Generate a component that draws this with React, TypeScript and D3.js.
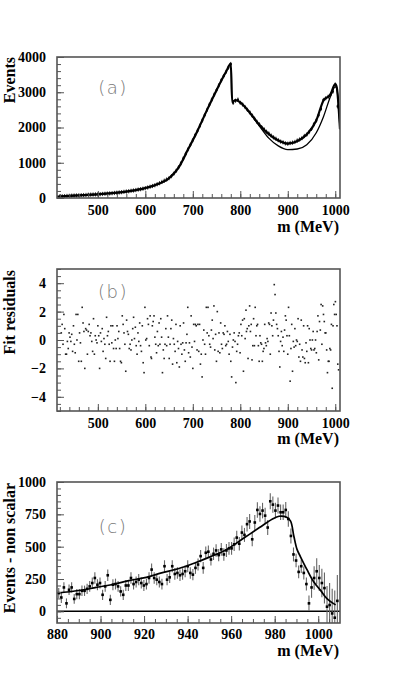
import React, { useEffect, useRef } from 'react';
import * as d3 from 'd3';

// ---- panel (a): pi pi mass spectrum ----
const massStartA = 420;
const massStepA = 5;
const eventsA = [
  45, 48, 52, 58, 60, 66, 70, 72, 76, 80,
  83, 86, 92, 95, 98, 102, 106, 110, 114, 120,
  125, 131, 137, 143, 150, 158, 166, 174, 183, 192,
  203, 213, 226, 238, 251, 264, 280, 298, 318, 340,
  362, 392, 420, 455, 490, 525, 565, 620, 690, 770,
  870, 985, 1120, 1250, 1380, 1510, 1640, 1780, 1910, 2050,
  2200, 2350, 2500, 2650, 2790, 2930, 3060, 3200, 3340, 3460,
  3580, 3700, 3800, 2700, 2760, 2790, 2700, 2650, 2580, 2500,
  2430, 2340, 2250, 2160, 2090, 2010, 1950, 1880, 1830, 1770,
  1720, 1680, 1640, 1600, 1580, 1550, 1540, 1560, 1570, 1590,
  1630, 1660, 1700, 1760, 1800, 1870, 1960, 2090, 2200, 2350,
  2530, 2780, 2830, 2870, 2930, 3020, 3220, 2600,
];
const errorA = 60;
const fitMassA = [414, 440, 470, 500, 530, 560, 590, 620, 650, 670, 690, 710, 730, 750, 770, 780, 783, 790, 800, 820, 840, 860, 880, 900, 920, 940, 960, 975, 990, 1000, 1003, 1010];
const fitEventsA = [40, 60, 82, 105, 136, 182, 250, 360, 560, 860, 1380, 1910, 2500, 3060, 3580, 3810, 2720, 2780, 2710, 2420, 2080, 1810, 1630, 1545, 1610, 1800, 2200, 2760, 2940, 3230, 3150, 1950];
const bgMassA = [820, 840, 860, 880, 900, 920, 940, 960, 975, 990, 1000, 1003, 1010];
const bgEventsA = [2420, 2050, 1700, 1480, 1375, 1390, 1510, 1850, 2300, 2880, 3150, 3120, 1950];

// ---- panel (b): fit residuals, three stretches of the spectrum ----
const residualsLow = [
  0.5, 1.1, -0.3, 1.8, 0.8, -1.0, -1.0, -0.1, -0.6, 0.5,
  0.2, -0.1, 0.4, -0.8, 1.0, -0.3, -0.9, 1.8, 0.0, 1.8,
  -1.5, 0.5, -0.2, -1.5, 2.3, 1.2, 0.6, -2.0, 0.8, 0.7,
  -1.0, 0.6, 1.1, 0.3, 0.5, -0.1, -0.8, 1.5, -1.0, 0.3,
  0.0, -0.2, 1.0, 0.3, -2.0, 0.5, -0.1, 0.8, -0.8, 0.1,
  -0.3, -1.3, 1.6, 0.3, 0.6, -0.3, -1.5, 1.0, -0.2, 1.0,
  -0.6, -1.5, 0.0, -0.6, 1.0, 0.1, 0.6, -0.6, -1.5, -1.6,
  1.7, 1.1, 0.5, -0.3, -2.2, 1.4, 0.6, 0.4, -0.6, -0.3,
  -0.7, 0.0, 0.8, 1.6, 0.1, 0.9, -0.4, -1.0, 0.5, -0.1,
  1.2, -0.4, -0.8, 1.0, -1.6, -2.3, 2.3, 0.0, 0.1, 1.5,
  1.1, -0.4, 1.7, -1.2,
];
const residualsMid = [
  -1.3, 1.0, 1.3, 1.7, 0.2, -0.3, -0.9, 0.6, -0.4, 1.2,
  -0.3, 1.5, 0.2, -2.3, -0.7, -1.3, -0.3, 0.8, -0.4, 1.7,
  0.2, -1.3, -0.3, 0.8, 1.4, -1.7, 0.1, -0.3, -0.8, 1.1,
  -1.6, -0.1, -0.6, -1.9, 1.0, -0.3, -1.0, -0.2, 1.2, -0.7,
  -1.5, -0.2, 0.4, 2.3, -0.9, -0.2, -1.2, 1.7, -0.5, -2.0,
  1.1, -0.1, 1.1, 1.0, -0.7, 1.1, -0.8, 1.1, -1.7, -1.0,
  -2.6, 0.0, 0.7, -0.3, -1.0, 2.3, 0.5, 2.3, 0.3, -0.3,
  -0.5, 0.7, 1.4, 0.1, 2.4, -0.7, 0.4, -1.5, 2.0, -0.8,
  0.5, -0.9, 1.2, -0.3, -0.6, 0.5, 0.4, 1.0, -0.4, -0.3,
  0.6, -0.1, -1.0, 0.4, -1.5, -2.6, -0.5, 0.0, 0.5, -0.1,
  -3.0, -0.8, -0.3, 0.3, 0.5, -0.9, 1.1, 0.3, 1.4, -2.2,
  1.5, 0.1, 2.1,
];
const residualsHigh = [
  0.6, 0.8, -1.3, 1.0, 2.4, 0.6, 1.1, -1.4, -0.4, 1.5,
  -0.4, 2.3, 0.3, 1.0, 1.1, -0.4, -1.5, 0.3, -0.2, -0.3,
  -1.5, -0.8, -0.6, 1.1, -0.2, -0.4, 0.1, -0.1, 1.2, 1.1,
  -1.0, 1.9, 1.0, 0.3, 1.4, 3.9, 3.2, 1.9, 1.1, 0.8,
  0.3, -0.8, -1.9, -0.1, 0.6, -0.4, 0.2, -0.8, 0.7, 1.7,
  1.4, 0.3, -1.0, 2.3, 0.3, -2.9, -0.6, 1.1, -2.2, -0.1,
  -0.5, 0.8, -0.4, 0.0, -0.1, 1.5, -1.2, -0.3, -1.5, 1.4,
  -0.7, -1.2, 1.0, -1.3, -1.6, -0.2, -0.8, 1.0, -1.6, 0.8,
  0.0, -0.6, -0.7, 0.0, 0.6, -0.7, -0.6, 0.0, -0.9, 0.6,
  1.7, -1.4, 1.3, 0.7, 2.5, -0.3, 2.4, 1.8, 1.3, 0.5,
  0.5, -0.7, -2.3, -1.5, -1.5, -0.6, -0.7, 1.1, -3.4, 1.0,
  2.5, 1.8, 2.7, 1.8, 1.0, -1.7, -2.1,
];
const residualRanges: [number, number][] = [[423, 612], [613, 812], [813, 1007]];

// ---- panel (c): events minus non scalar part ----
const massStartC = 880.8;
const massStepC = 1.185;
const eventsC = [
  141, 107, 185, 62, 167, 185, 96, 133, 133, 159,
  159, 174, 193, 219, 258, 206, 219, 128, 193, 279,
  89, 206, 211, 193, 154, 128, 200, 200, 258, 211,
  227, 245, 219, 200, 211, 258, 323, 258, 245, 227,
  211, 349, 245, 263, 349, 289, 297, 279, 289, 310,
  349, 297, 284, 336,
  362, 427, 336, 453, 461, 401, 445, 471, 435, 479,
  440, 471, 487, 487, 518, 570, 523, 609, 591, 674,
  695, 557, 687, 784, 753, 779, 740, 648, 851, 825,
  779, 818, 766, 766, 784, 714, 583, 440, 393, 305,
  349, 297, 211, 62, 185, 258, 310, 258, 219, 180,
  36, 49, -16, -49, 81,
];
const errorsC = [
  40, 42, 40, 38, 40, 40, 38, 40, 40, 40,
  40, 40, 42, 42, 44, 42, 42, 40, 42, 44,
  40, 42, 42, 42, 40, 40, 42, 42, 44, 42,
  42, 44, 42, 42, 42, 44, 46, 44, 44, 42,
  42, 46, 44, 44, 46, 44, 44, 44, 44, 46,
  46, 44, 44, 46,
  46, 48, 46, 48, 48, 46, 48, 48, 48, 50,
  48, 50, 50, 50, 52, 54, 52, 54, 54, 56,
  58, 54, 58, 60, 60, 60, 60, 58, 62, 62,
  60, 62, 60, 60, 62, 60, 58, 54, 52, 50,
  52, 50, 50, 60, 80, 90, 100, 100, 110, 120,
  160, 170, 190, 210, 200,
];
const fitMassC = [880, 890, 898, 905, 913, 921, 928, 936, 943, 950, 958, 965, 973, 979, 982, 985.5, 987.3, 988.8, 990.3, 991.8, 994.9, 997.9, 1001, 1004, 1008];
const fitEventsC = [141, 161, 185, 206, 237, 263, 297, 331, 372, 419, 479, 557, 648, 714, 735, 727, 698, 581, 477, 424, 320, 229, 164, 99, 50];

const serif = "'Liberation Serif', 'Times New Roman', serif";
const frameLeft = 57;
const frameRight = 340;

interface AxisOpts {
  top: number;
  bottom: number;
  xMajor: number[];
  xMinor: number[];
  yMajor: number[];
  yMinor: number[];
  xPad: number;
}

function drawAxes(svg: any, x: any, y: any, o: AxisOpts) {
  const style = (s: any) => {
    s.select('.domain').remove();
    s.selectAll('line').attr('stroke', '#555');
    s.attr('font-family', serif).attr('font-size', 14).attr('font-weight', 'bold');
    s.selectAll('text').attr('fill', '#000');
  };
  svg.append('g')
    .attr('transform', `translate(0,${o.bottom})`)
    .call(d3.axisBottom(x).tickValues(o.xMinor).tickSize(-4).tickFormat(() => ''))
    .call(style);
  svg.append('g')
    .attr('transform', `translate(0,${o.bottom})`)
    .call(d3.axisBottom(x).tickValues(o.xMajor).tickSize(-7).tickPadding(o.xPad).tickFormat(d3.format('d')))
    .call(style);
  svg.append('g')
    .attr('transform', `translate(${frameLeft},0)`)
    .call(d3.axisLeft(y).tickValues(o.yMinor).tickSize(-4).tickFormat(() => ''))
    .call(style);
  svg.append('g')
    .attr('transform', `translate(${frameLeft},0)`)
    .call(d3.axisLeft(y).tickValues(o.yMajor).tickSize(-7).tickPadding(11).tickFormat(d3.format('d')))
    .call(style);
  svg.append('rect')
    .attr('x', frameLeft)
    .attr('y', o.top)
    .attr('width', frameRight - frameLeft)
    .attr('height', o.bottom - o.top)
    .attr('fill', 'none')
    .attr('stroke', '#555')
    .attr('stroke-width', 1.6);
}

function addTitles(svg: any, xTitleY: number, yTitle: string, yTitleTop: number, tag: string, tagY: number) {
  svg.append('text')
    .attr('x', 339)
    .attr('y', xTitleY)
    .attr('text-anchor', 'end')
    .attr('font-family', serif)
    .attr('font-weight', 'bold')
    .attr('font-size', 16)
    .text('m (MeV)');
  svg.append('text')
    .attr('transform', `translate(15,${yTitleTop}) rotate(-90)`)
    .attr('text-anchor', 'end')
    .attr('font-family', serif)
    .attr('font-weight', 'bold')
    .attr('font-size', 16)
    .text(yTitle);
  svg.append('text')
    .attr('x', 113)
    .attr('y', tagY)
    .attr('text-anchor', 'middle')
    .attr('font-family', "'DejaVu Sans', sans-serif")
    .attr('font-weight', 200)
    .attr('font-size', 18)
    .attr('letter-spacing', 1.5)
    .attr('fill', '#777')
    .text(tag);
}

function addClip(svg: any, id: string, top: number, bottom: number) {
  svg.append('clipPath').attr('id', id)
    .append('rect')
    .attr('x', frameLeft)
    .attr('y', top)
    .attr('width', frameRight - frameLeft)
    .attr('height', bottom - top);
}

export default function App() {
  const svgRef = useRef<SVGSVGElement>(null);

  useEffect(() => {
    if (!svgRef.current) return;
    const svg = d3.select(svgRef.current);
    svg.selectAll('*').remove();

    // ---------- (a) ----------
    const topA = 57, bottomA = 198;
    const xA = d3.scaleLinear().domain([414, 1010]).range([frameLeft, frameRight]);
    const yA = d3.scaleLinear().domain([0, 4000]).range([bottomA, topA]);
    addClip(svg, 'clipA', topA, bottomA);
    const gA = svg.append('g').attr('clip-path', 'url(#clipA)');
    const dataA = eventsA.map((v, i) => ({ m: massStartA + i * massStepA, v }));
    gA.selectAll('line.errA')
      .data(dataA)
      .enter()
      .append('line')
      .attr('x1', d => xA(d.m))
      .attr('x2', d => xA(d.m))
      .attr('y1', d => yA(d.v - errorA))
      .attr('y2', d => yA(d.v + errorA))
      .attr('stroke', '#333')
      .attr('stroke-width', 1);
    const lineA = d3.line<number>()
      .x((_, i) => xA(fitMassA[i]))
      .y(d => yA(d))
      .curve(d3.curveMonotoneX);
    gA.append('path')
      .attr('d', lineA(fitEventsA))
      .attr('fill', 'none')
      .attr('stroke', '#000')
      .attr('stroke-width', 2.2);
    const lineBg = d3.line<number>()
      .x((_, i) => xA(bgMassA[i]))
      .y(d => yA(d))
      .curve(d3.curveMonotoneX);
    gA.append('path')
      .attr('d', lineBg(bgEventsA))
      .attr('fill', 'none')
      .attr('stroke', '#000')
      .attr('stroke-width', 1.3);
    gA.selectAll('rect.ptA')
      .data(dataA)
      .enter()
      .append('rect')
      .attr('x', d => xA(d.m) - 1)
      .attr('y', d => yA(d.v) - 1)
      .attr('width', 2)
      .attr('height', 2)
      .attr('fill', '#000');
    drawAxes(svg, xA, yA, {
      top: topA, bottom: bottomA,
      xMajor: d3.range(500, 1001, 100), xMinor: d3.range(420, 1001, 20),
      yMajor: d3.range(0, 4001, 1000), yMinor: d3.range(0, 4001, 200),
      xPad: 7,
    });
    addTitles(svg, 232, 'Events', 57, '(a)', 94);

    // ---------- (b) ----------
    const topB = 269, bottomB = 411;
    const xB = d3.scaleLinear().domain([414, 1010]).range([frameLeft, frameRight]);
    const yB = d3.scaleLinear().domain([-5, 5]).range([bottomB, topB]);
    const resid: { m: number; r: number }[] = [];
    [residualsLow, residualsMid, residualsHigh].forEach((arr, k) => {
      const [m0, m1] = residualRanges[k];
      arr.forEach((r, i) => resid.push({ m: m0 + (i * (m1 - m0)) / (arr.length - 1), r }));
    });
    svg.append('g')
      .selectAll('rect')
      .data(resid)
      .enter()
      .append('rect')
      .attr('x', d => xB(d.m) - 0.8)
      .attr('y', d => yB(d.r) - 0.8)
      .attr('width', 1.6)
      .attr('height', 1.6)
      .attr('fill', '#222');
    drawAxes(svg, xB, yB, {
      top: topB, bottom: bottomB,
      xMajor: d3.range(500, 1001, 100), xMinor: d3.range(420, 1001, 20),
      yMajor: [-4, -2, 0, 2, 4], yMinor: d3.range(-5, 5.01, 0.5),
      xPad: 7,
    });
    addTitles(svg, 444, 'Fit residuals', 270, '(b)', 298);

    // ---------- (c) ----------
    const topC = 482, bottomC = 623;
    const xC = d3.scaleLinear().domain([880, 1010]).range([frameLeft, frameRight]);
    const yC = d3.scaleLinear().domain([-90, 1000]).range([bottomC, topC]);
    addClip(svg, 'clipC', topC, bottomC);
    const gC = svg.append('g').attr('clip-path', 'url(#clipC)');
    gC.append('line')
      .attr('x1', frameLeft)
      .attr('x2', frameRight)
      .attr('y1', yC(0))
      .attr('y2', yC(0))
      .attr('stroke', '#000')
      .attr('stroke-width', 1.5);
    const dataC = eventsC.map((v, i) => ({ m: massStartC + i * massStepC, v, e: errorsC[i] }));
    gC.selectAll('line.errC')
      .data(dataC)
      .enter()
      .append('line')
      .attr('x1', d => xC(d.m))
      .attr('x2', d => xC(d.m))
      .attr('y1', d => yC(d.v - d.e))
      .attr('y2', d => yC(d.v + d.e))
      .attr('stroke', '#666')
      .attr('stroke-width', 1.1);
    const lineC = d3.line<number>()
      .x((_, i) => xC(fitMassC[i]))
      .y(d => yC(d))
      .curve(d3.curveCatmullRom.alpha(0.5));
    gC.append('path')
      .attr('d', lineC(fitEventsC))
      .attr('fill', 'none')
      .attr('stroke', '#000')
      .attr('stroke-width', 1.7);
    gC.selectAll('rect.ptC')
      .data(dataC)
      .enter()
      .append('rect')
      .attr('x', d => xC(d.m) - 1.3)
      .attr('y', d => yC(d.v) - 1.3)
      .attr('width', 2.6)
      .attr('height', 2.6)
      .attr('fill', '#000');
    drawAxes(svg, xC, yC, {
      top: topC, bottom: bottomC,
      xMajor: d3.range(880, 1001, 20), xMinor: d3.range(880, 1010, 5),
      yMajor: [0, 250, 500, 750, 1000], yMinor: d3.range(-50, 1001, 50),
      xPad: 6,
    });
    addTitles(svg, 656, 'Events - non scalar', 483, '(c)', 533);
  }, []);

  return (
    <svg
      ref={svgRef}
      width={397}
      height={680}
      style={{ position: 'absolute', left: 0, top: 0, background: '#fff' }}
    />
  );
}
